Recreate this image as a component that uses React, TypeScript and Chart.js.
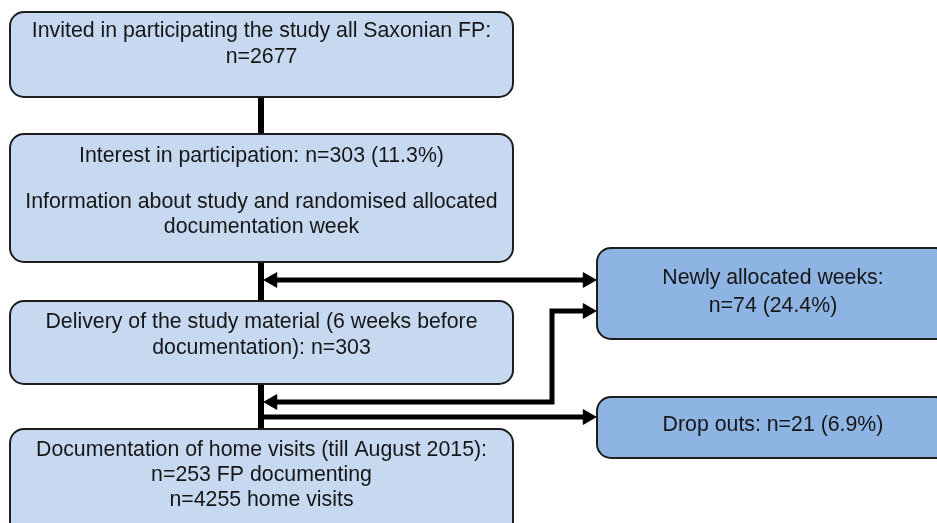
import React, { useEffect, useRef } from "react";
import { Chart, registerables } from "chart.js";

Chart.register(...registerables);

// Flowchart boxes (in layout units of the hidden linear scales)
const boxLeft = [10, 10, 10, 10, 597, 597];
const boxRight = [513, 513, 513, 513, 949, 949];
const boxTop = [12, 134, 301, 429, 248, 397];
const boxBottom = [97, 262, 384, 540, 339, 458];
const boxKind = ["main", "main", "main", "main", "side", "side"];

const boxTexts: string[][] = [
  ["Invited in participating the study all Saxonian FP:", "n=2677"],
  ["Interest in participation: n=303 (11.3%)", "Information about study and randomised allocated", "documentation week"],
  ["Delivery of the study material (6 weeks before", "documentation): n=303"],
  ["Documentation of home visits (till August 2015):", "n=253 FP documenting", "n=4255 home visits"],
  ["Newly allocated weeks:", "n=74 (24.4%)"],
  ["Drop outs: n=21 (6.9%)"],
];
const boxTextBaselines: number[][] = [
  [37, 63],
  [162, 208, 233],
  [328, 354],
  [456, 481, 506],
  [284, 312],
  [431],
];

// Connector paths
const trunkPath = [
  { x: 261, y: 97 },
  { x: 261, y: 429 },
];
const reallocPath = [
  { x: 268, y: 280 },
  { x: 588, y: 280 },
];
const returnPath = [
  { x: 268, y: 402 },
  { x: 552, y: 402 },
  { x: 552, y: 311 },
  { x: 588, y: 311 },
];
const dropPath = [
  { x: 261, y: 417 },
  { x: 588, y: 417 },
];

// Arrow tips and directions
const arrowTipX = [264, 596, 264, 596, 596];
const arrowTipY = [280, 280, 402, 311, 417];
const arrowDir = [-1, 1, -1, 1, 1];

const ARROW_R = 8.5;

const boxPlugin = {
  id: "flowBoxes",
  afterDatasetsDraw(chart: any) {
    const { ctx, scales } = chart;
    const xs = scales.x;
    const ys = scales.y;
    ctx.save();
    for (let i = 0; i < boxLeft.length; i++) {
      const x0 = xs.getPixelForValue(boxLeft[i]);
      const x1 = xs.getPixelForValue(boxRight[i]);
      const y0 = ys.getPixelForValue(boxTop[i]);
      const y1 = ys.getPixelForValue(boxBottom[i]);
      ctx.beginPath();
      ctx.roundRect(x0, y0, x1 - x0, y1 - y0, 14);
      ctx.fillStyle = boxKind[i] === "main" ? "#c6d9f1" : "#8eb4e3";
      ctx.fill();
      ctx.lineWidth = 2;
      ctx.strokeStyle = "#1e1e1e";
      ctx.stroke();
      const cx = (x0 + x1) / 2;
      ctx.fillStyle = "#161616";
      ctx.font = '21.3px "Liberation Sans", Arial, sans-serif';
      ctx.textAlign = "center";
      ctx.textBaseline = "alphabetic";
      boxTexts[i].forEach((t, j) => {
        ctx.fillText(t, cx, ys.getPixelForValue(boxTextBaselines[i][j]));
      });
    }
    ctx.restore();
  },
};

export default function App() {
  const ref = useRef<HTMLCanvasElement>(null);
  useEffect(() => {
    if (!ref.current) return;
    const lineDs = (data: any[], w: number) => ({
      type: "line" as const,
      data,
      borderColor: "#000",
      borderWidth: w,
      pointRadius: 0,
      fill: false,
      tension: 0,
      borderJoinStyle: "miter" as const,
      borderCapStyle: "butt" as const,
    });
    const chart = new Chart(ref.current, {
      type: "scatter",
      data: {
        datasets: [
          lineDs(trunkPath, 6),
          lineDs(reallocPath, 5),
          lineDs(returnPath, 5),
          lineDs(dropPath, 5),
          {
            type: "scatter" as const,
            data: arrowTipX.map((x, i) => ({ x: x - arrowDir[i] * ARROW_R, y: arrowTipY[i] })),
            pointStyle: "triangle",
            rotation: arrowDir.map((d) => (d > 0 ? 90 : -90)),
            pointRadius: ARROW_R,
            pointBackgroundColor: "#000",
            pointBorderColor: "#000",
            pointBorderWidth: 1,
          } as any,
        ],
      },
      options: {
        animation: false,
        responsive: false,
        devicePixelRatio: 1,
        layout: { padding: 0, autoPadding: false },
        plugins: { legend: { display: false }, tooltip: { enabled: false } },
        events: [],
        scales: {
          x: { type: "linear", min: 0, max: 937, display: false },
          y: { type: "linear", min: 0, max: 523, reverse: true, display: false },
        },
      },
      plugins: [boxPlugin],
    });
    return () => chart.destroy();
  }, []);
  return (
    <div style={{ position: "fixed", left: 0, top: 0, width: 937, height: 523, background: "#fff" }}>
      <canvas ref={ref} width={937} height={523} style={{ display: "block" }} />
    </div>
  );
}
